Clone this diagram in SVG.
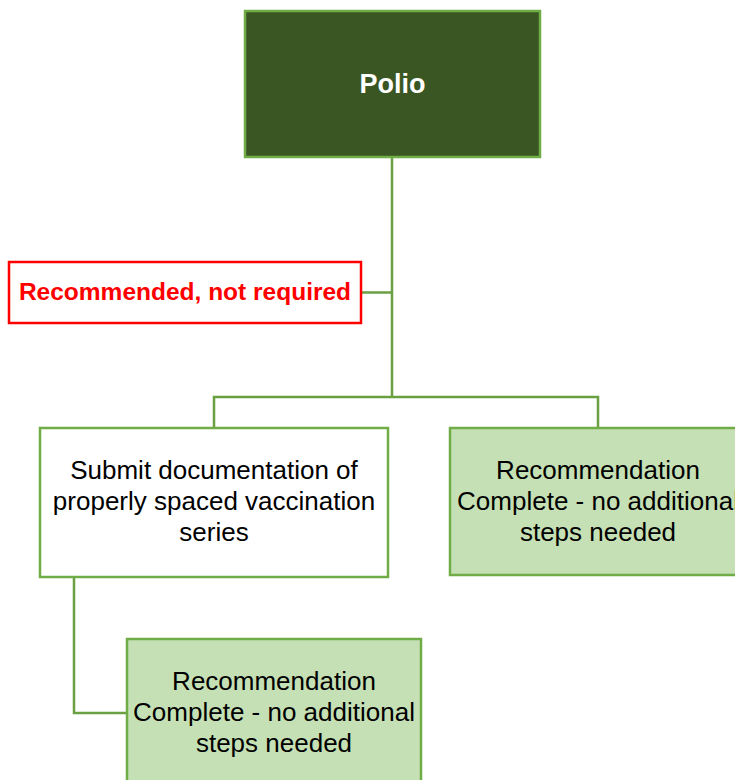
<svg xmlns="http://www.w3.org/2000/svg" width="735" height="780" viewBox="0 0 735 780">
  <style>
    .box { stroke: #70AD47; stroke-width: 2.5; }
    .link { fill: none; stroke: #6A9F42; stroke-width: 2.5; }
    .t { font-family: "Liberation Sans", Arial, sans-serif; font-size: 26px; fill: #000; text-anchor: middle; }
  </style>
  <rect width="735" height="780" fill="#ffffff"/>

  <g id="connectors">
    <path class="link" d="M392 158 V397"/>
    <path class="link" d="M362 292.5 H392"/>
    <path class="link" d="M214 428 V397 H598 V428"/>
    <path class="link" d="M74 577 V713 H127"/>
  </g>

  <g id="polio">
    <rect class="box" x="245" y="11" width="295" height="146" fill="#3A5623"/>
    <text x="392.5" y="93" font-family="Liberation Sans, Arial, sans-serif" font-size="27" font-weight="bold" fill="#ffffff" text-anchor="middle">Polio</text>
  </g>

  <g id="recommended">
    <rect x="9" y="262" width="352" height="61" fill="#ffffff" stroke="#FF0000" stroke-width="2.5"/>
    <text x="185" y="300" font-family="Liberation Sans, Arial, sans-serif" font-size="24.5" font-weight="bold" fill="#FF0000" text-anchor="middle">Recommended, not required</text>
  </g>

  <g id="submit">
    <rect class="box" x="40" y="428" width="348" height="149" fill="#ffffff"/>
    <text class="t" x="214" y="479">Submit documentation of</text>
    <text class="t" x="214" y="510">properly spaced vaccination</text>
    <text class="t" x="214" y="541">series</text>
  </g>

  <g id="complete-right">
    <rect class="box" x="450" y="428" width="300" height="147" fill="#C5E0B4"/>
    <text class="t" x="598" y="479">Recommendation</text>
    <text class="t" x="598" y="510">Complete - no additional</text>
    <text class="t" x="598" y="541">steps needed</text>
  </g>

  <g id="complete-bottom">
    <rect class="box" x="127" y="639" width="294" height="160" fill="#C5E0B4"/>
    <text class="t" x="274" y="690">Recommendation</text>
    <text class="t" x="274" y="721">Complete - no additional</text>
    <text class="t" x="274" y="752">steps needed</text>
  </g>
</svg>
